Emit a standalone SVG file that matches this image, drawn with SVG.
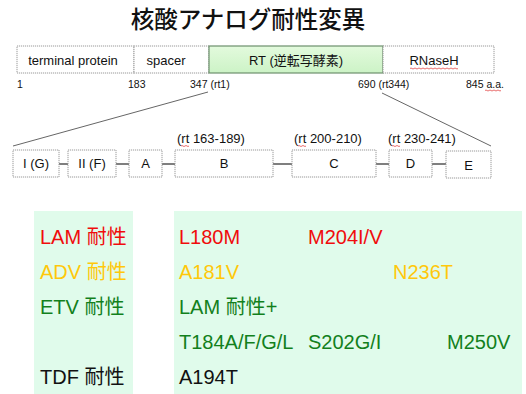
<svg xmlns="http://www.w3.org/2000/svg" width="526" height="394" viewBox="0 0 526 394">
<style>
text{font-family:"Liberation Sans","Noto Sans CJK JP",sans-serif}
.seg{fill:#fff;stroke:#9a9a9a;stroke-width:1;stroke-dasharray:1.2 0.8}
.lbl{font-size:13px;fill:#111;text-anchor:middle}
.pos{font-size:10.5px;fill:#111}
.mot{font-size:13px;fill:#111;text-anchor:middle}
.rng{font-size:13px;fill:#111}
.con{stroke:#555;stroke-width:1.3;fill:none}
.diag{stroke:#666;stroke-width:1;fill:none}
.row{font-size:20px}
.red{fill:#f00c0c}
.yel{fill:#ffc80a}
.grn{fill:#12801c}
.blk{fill:#111}
.sq{stroke:#e03030;stroke-width:0.7;fill:none}
.panel{fill:#e0fbeb}
</style>
<defs>
<linearGradient id="rtg" x1="0" y1="0" x2="0" y2="1">
<stop offset="0" stop-color="#e3fadd"/>
<stop offset="1" stop-color="#ccf3c6"/>
</linearGradient>
</defs>
<text x="248" y="28" font-size="23.5" font-weight="500" text-anchor="middle" fill="#111" style="font-family:'Noto Sans CJK JP',sans-serif">核酸アナログ耐性変異</text>

<g id="bar">
<g id="tp"><rect class="seg" x="17" y="46" width="117" height="27"/><text class="lbl" x="73" y="65">terminal protein</text></g>
<g id="spacer"><rect class="seg" x="134" y="46" width="75" height="27"/><text class="lbl" x="166" y="65">spacer</text></g>
<g id="rt"><rect x="209" y="46" width="174" height="27" fill="url(#rtg)" stroke="#6d8f6d" stroke-width="1.2"/><text class="lbl" x="296" y="65">RT (逆転写酵素)</text></g>
<g id="rnaseh"><rect class="seg" x="383" y="46" width="111" height="27"/><text class="lbl" x="434" y="65">RNaseH</text><path class="sq" d="M410 68.5 q1 -1 2 0 t2 0 t2 0 t2 0 t2 0 t2 0 t2 0 t2 0 t2 0 t2 0 t2 0 t2 0 t2 0 t2 0 t2 0 t2 0 t2 0 t2 0 t2 0 t2 0 t2 0 t2 0 t2 0 t2 0"/></g>
</g>
<g id="positions">
<text class="pos" x="17" y="88">1</text>
<text class="pos" x="128" y="88">183</text>
<text class="pos" x="190" y="88">347 (rt1)</text>
<text class="pos" x="358" y="88">690 (rt344)</text>
<text class="pos" x="466" y="88">845 a.a.</text>
<path class="sq" d="M485 90.5 q1 -1 2 0 t2 0 t2 0 t2 0 t2 0 t2 0 t2 0 t2 0"/>
</g>

<g id="connectors">
<path class="diag" d="M208 92 L13 146"/>
<path class="diag" d="M382 93 L491 146"/>
<path class="con" d="M59 164 H68 M116 164 H129 M162 164 H175 M273 164 H292 M376 164 H389 M432 164 H446"/>
</g>

<g id="motif-I"><rect class="seg" x="13" y="150" width="46" height="27"/><text class="mot" x="36" y="168">I (G)</text></g>
<g id="motif-II"><rect class="seg" x="68" y="150" width="48" height="27"/><text class="mot" x="92" y="168">II (F)</text></g>
<g id="motif-A"><rect class="seg" x="129" y="150" width="33" height="27"/><text class="mot" x="145.5" y="168">A</text></g>
<g id="motif-B"><rect class="seg" x="175" y="150" width="98" height="27"/><text class="mot" x="224" y="168">B</text><text class="rng" x="177" y="143">(rt 163-189)</text></g>
<g id="motif-C"><rect class="seg" x="292" y="150" width="84" height="27"/><text class="mot" x="334" y="168">C</text><text class="rng" x="294" y="143">(rt 200-210)</text></g>
<g id="motif-D"><rect class="seg" x="389" y="150" width="43" height="27"/><text class="mot" x="410.5" y="168">D</text><text class="rng" x="388" y="143">(rt 230-241)</text></g>
<g id="motif-E"><rect class="seg" x="446" y="151" width="45" height="27"/><text class="mot" x="468.5" y="170">E</text></g>
<path class="sq" d="M181 146 q1 -1 2 0 t2 0 t2 0 t2 0 M298 146 q1 -1 2 0 t2 0 t2 0 t2 0 M392 146 q1 -1 2 0 t2 0 t2 0 t2 0"/>

<rect class="panel" x="34" y="211" width="99" height="183"/>
<rect class="panel" x="174" y="211" width="348" height="183"/>

<g id="drugs" class="row">
<text class="red" x="40" y="244">LAM 耐性</text>
<text class="yel" x="40" y="279">ADV 耐性</text>
<text class="grn" x="40" y="314">ETV 耐性</text>
<text class="blk" x="40" y="384">TDF 耐性</text>
</g>
<g id="mutations" class="row">
<text class="red" x="179" y="244">L180M</text>
<text class="red" x="308" y="244">M204I/V</text>
<text class="yel" x="179" y="279">A181V</text>
<text class="yel" x="393" y="279">N236T</text>
<text class="grn" x="179" y="314">LAM 耐性+</text>
<text class="grn" x="179" y="349">T184A/F/G/L</text>
<text class="grn" x="308" y="349">S202G/I</text>
<text class="grn" x="447" y="349">M250V</text>
<text class="blk" x="179" y="384">A194T</text>
</g>
</svg>
